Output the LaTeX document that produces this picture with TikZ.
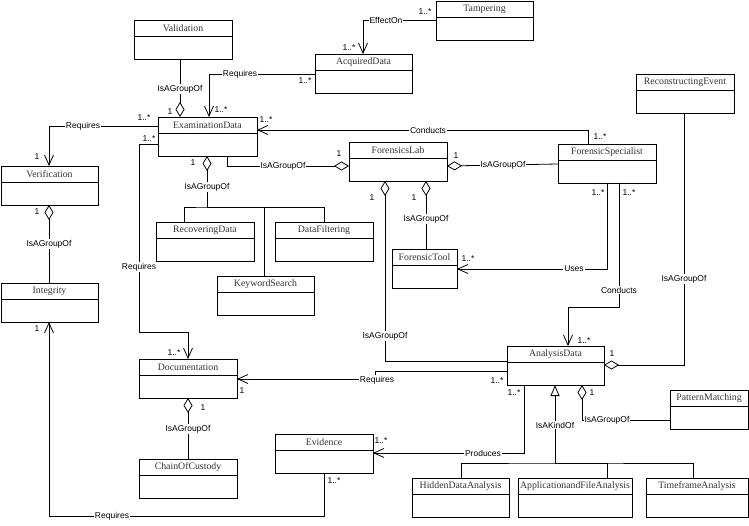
\documentclass[tikz,border=0pt]{standalone}
\usepackage{fontspec}
\setmainfont{Liberation Serif}
\setsansfont{Liberation Sans}
\usetikzlibrary{arrows.meta,calc}
\tikzset{
  x=1pt, y=-1pt,
  clsbox/.style={draw, line width=0.9pt, rectangle, minimum height=39pt, inner sep=0pt, outer sep=0pt},
  clsline/.style={line width=0.9pt},
  clsname/.style={font=\fontsize{9.8}{11}\selectfont\rmfamily, inner sep=0pt, text=black!80},
  lbl/.style={font=\fontsize{8.5}{10}\selectfont\sffamily, fill=white, inner sep=1pt},
  mult/.style={font=\fontsize{8.5}{10}\selectfont\sffamily, inner sep=0pt},
  conn/.style={line width=0.8pt},
  assoc/.style={conn, -{Straight Barb[length=10pt,width=9pt,line width=0.8pt]}},
  agg/.style={conn, {Diamond[fill=white,length=15pt,width=9pt,line width=0.8pt]}-},
  gen/.style={conn, {Triangle[fill=white,length=11pt,width=9pt,line width=0.8pt]}-},
}
\newcommand\umlclass[5]{%
  \node[clsbox, minimum width=#4pt, anchor=north west] (#1) at (#2,#3) {};
  \draw[clsline] ([yshift=-16pt]#1.north west) -- ([yshift=-16pt]#1.north east);
  \node[clsname] (#1-name) at ([yshift=-8.5pt]#1.north) {#5};
}
\begin{document}
\begin{tikzpicture}
\useasboundingbox (0,0) rectangle (749,526);
% classes
\umlclass{Valid}{134}{20}{98}{Validation}
\umlclass{AcqData}{315}{54}{97}{AcquiredData}
\umlclass{Tamper}{436}{1}{97}{Tampering}
\umlclass{ExamData}{158}{117}{99}{ExaminationData}
\umlclass{Verif}{1}{166}{97}{Verification}
\umlclass{Integrity}{1}{283}{97}{Integrity}
\umlclass{FLab}{349}{142}{98}{ForensicsLab}
\umlclass{FSpec}{558}{144}{98}{ForensicSpecialist}
\umlclass{RecEvent}{636}{74}{98}{ReconstructingEvent}
\umlclass{RecovData}{156}{222}{98}{RecoveringData}
\umlclass{DataFilt}{275}{222}{98}{DataFiltering}
\umlclass{Keyword}{217}{276}{97}{KeywordSearch}
\umlclass{Doc}{139}{359}{98}{Documentation}
\umlclass{Chain}{139}{459}{98}{ChainOfCustody}
\umlclass{Evidence}{275}{434}{98}{Evidence}
\umlclass{FTool}{392}{249}{65}{ForensicTool}
\umlclass{AData}{507}{346}{97}{AnalysisData}
\umlclass{Pattern}{670}{390}{78}{PatternMatching}
\umlclass{Hidden}{412}{478}{97}{HiddenDataAnalysis}
\umlclass{AppFile}{518}{478}{114}{ApplicationandFileAnalysis}
\umlclass{Timeframe}{646}{478}{102}{TimeframeAnalysis}

% 1 Validation - ExaminationData
\draw[agg] ($(ExamData.north west)+(22,0)$) -- ($(Valid.south west)+(46,0)$);
\node[lbl] (l1) at (180,89) {IsAGroupOf};
\node[mult] (m1) at (170,112) {1};
% 2 AcquiredData -> ExaminationData
\draw[assoc] ($(AcqData.north west)+(0,20)$) -| ($(ExamData.north west)+(51,0)$);
\node[lbl] (l2) at (240,74) {Requires};
\node[mult] (m2a) at (305,81) {1..*};
\node[mult] (m2b) at (221,110) {1..*};
% 3 Tampering -> AcquiredData
\draw[assoc] ($(Tamper.north west)+(0,19)$) -| ($(AcqData.north west)+(48,0)$);
\node[lbl] (l3) at (386,20) {EffectOn};
\node[mult] (m3a) at (425,12) {1..*};
\node[mult] (m3b) at (349,48) {1..*};
% 4 ExaminationData -> Verification
\draw[assoc] ($(ExamData.north west)+(0,9)$) -| ($(Verif.north west)+(48,0)$);
\node[lbl] (l4) at (83,126) {Requires};
\node[mult] (m4a) at (144,118) {1..*};
\node[mult] (m4b) at (37,157) {1};
% 5 ForensicSpecialist -> ExaminationData
\draw[assoc] ($(FSpec.north west)+(30,0)$) |- ($(ExamData.north east)+(0,13)$);
\node[lbl] (l5) at (428,130) {Conducts};
\node[mult] (m5a) at (266,120) {1..*};
\node[mult] (m5b) at (600,137) {1..*};
% 6 ExaminationData - ForensicsLab
\draw[agg] ($(FLab.north west)+(0,24)$) -| ($(ExamData.south west)+(69,0)$);
\node[lbl] (l6) at (283,166) {IsAGroupOf};
\node[mult] (m6) at (339,154) {1};
% 7 ExaminationData - children
\coordinate (j1) at ($(ExamData.south west)+(49,51)$);
\draw[agg] ($(ExamData.south west)+(49,0)$) -- (j1);
\draw[conn] ($(RecovData.north west)+(28,0)$) |- (j1) -| ($(DataFilt.north west)+(49,0)$);
\draw[conn] ($(Keyword.north west)+(47,0)$) |- (j1);
\node[lbl] (l7) at (207,187) {IsAGroupOf};
\node[mult] (m7) at (193,163) {1};
% 8 Verification - Integrity
\draw[agg] ($(Verif.south west)+(48,0)$) -- ($(Integrity.north west)+(48,0)$);
\node[lbl] (l8) at (49,244) {IsAGroupOf};
\node[mult] (m8) at (37,212) {1};
% 9 ExaminationData -> Documentation
\draw[assoc] ($(ExamData.north west)+(0,27)$) -- ++(-19,0) |- ($(Doc.north west)+(49,-27)$) -- ($(Doc.north west)+(49,0)$);
\node[lbl] (l9) at (139,267) {Requires};
\node[mult] (m9a) at (149,139) {1..*};
\node[mult] (m9b) at (174,353) {1..*};
% 10 Documentation - ChainOfCustody
\draw[agg] ($(Doc.south west)+(49,0)$) -- ($(Chain.north west)+(49,0)$);
\node[lbl] (l10) at (188,429) {IsAGroupOf};
\node[mult] (m10) at (203,408) {1};
% 11 Evidence -> Integrity
\draw[assoc] ($(Evidence.south west)+(49,0)$) -- ($(Evidence.south west)+(49,43)$) -| ($(Integrity.south west)+(48,0)$);
\node[lbl] (l11) at (112,516) {Requires};
\node[mult] (m11a) at (334,481) {1..*};
\node[mult] (m11b) at (37,329) {1};
% 12 ForensicsLab - ForensicSpecialist
\draw[agg] ($(FLab.north east)+(0,24)$) -- ($(FSpec.north west)+(0,20)$);
\node[lbl] (l12) at (503,165) {IsAGroupOf};
\node[mult] (m12) at (456,156) {1};
% 13 ForensicsLab - ForensicTool
\draw[agg] ($(FLab.south west)+(77,0)$) -- ($(FTool.north west)+(34,0)$);
\node[lbl] (l13) at (426,219) {IsAGroupOf};
\node[mult] (m13) at (414,198) {1};
% 14 ForensicsLab - AnalysisData
\draw[agg] ($(FLab.south west)+(36,0)$) |- ($(AData.north west)+(0,15)$);
\node[lbl] (l14) at (385,336) {IsAGroupOf};
\node[mult] (m14) at (372,198) {1};
% 15 ForensicSpecialist -> ForensicTool
\draw[assoc] ($(FSpec.south west)+(49,0)$) |- ($(FTool.north east)+(0,20)$);
\node[lbl] (l15) at (574,269) {Uses};
\node[mult] (m15a) at (598,193) {1..*};
\node[mult] (m15b) at (468,259) {1..*};
% 16 ForensicSpecialist -> AnalysisData
\draw[assoc] ($(FSpec.south west)+(61,0)$) -- ($(FSpec.south west)+(61,124)$) -| ($(AData.north west)+(61,0)$);
\node[lbl] (l16) at (619,290) {Conducts};
\node[mult] (m16a) at (629,193) {1..*};
\node[mult] (m16b) at (584,341) {1..*};
% 17 ReconstructingEvent - AnalysisData
\draw[agg] ($(AData.north east)+(0,19)$) -| ($(RecEvent.south west)+(48,0)$);
\node[lbl] (l17) at (684,279) {IsAGroupOf};
\node[mult] (m17) at (612,354) {1};
% 18 AnalysisData -> Documentation
\draw[assoc] ($(AData.north west)+(0,25)$) -- ++(-132,0) -- ++(0,8) -- ($(Doc.north east)+(0,20)$);
\node[lbl] (l18) at (377,380) {Requires};
\node[mult] (m18a) at (497,381) {1..*};
\node[mult] (m18b) at (242,391) {1};
% 19 AnalysisData -> Evidence
\draw[assoc] ($(AData.south west)+(17,0)$) |- ($(Evidence.north east)+(0,19)$);
\node[lbl] (l19) at (483,453) {Produces};
\node[mult] (m19a) at (514,393) {1..*};
\node[mult] (m19b) at (381,441) {1..*};
% 20 AnalysisData - PatternMatching
\draw[agg] ($(AData.south west)+(75,0)$) |- ($(Pattern.north west)+(0,30)$);
\node[lbl] (l20) at (607,420) {IsAGroupOf};
\node[mult] (m20) at (592,393) {1};
% 21 Generalization
\coordinate (j2) at ($(AData.south west)+(48,78)$);
\draw[gen] ($(AData.south west)+(48,0)$) -- (j2);
\draw[conn] ($(Hidden.north west)+(49,0)$) |- (j2) -| ($(Timeframe.north west)+(47,0)$);
\draw[conn] ($(AppFile.north west)+(89,0)$) |- (j2);
\node[lbl] (l21) at (555,425) {IsAKindOf};
\end{tikzpicture}
\end{document}
